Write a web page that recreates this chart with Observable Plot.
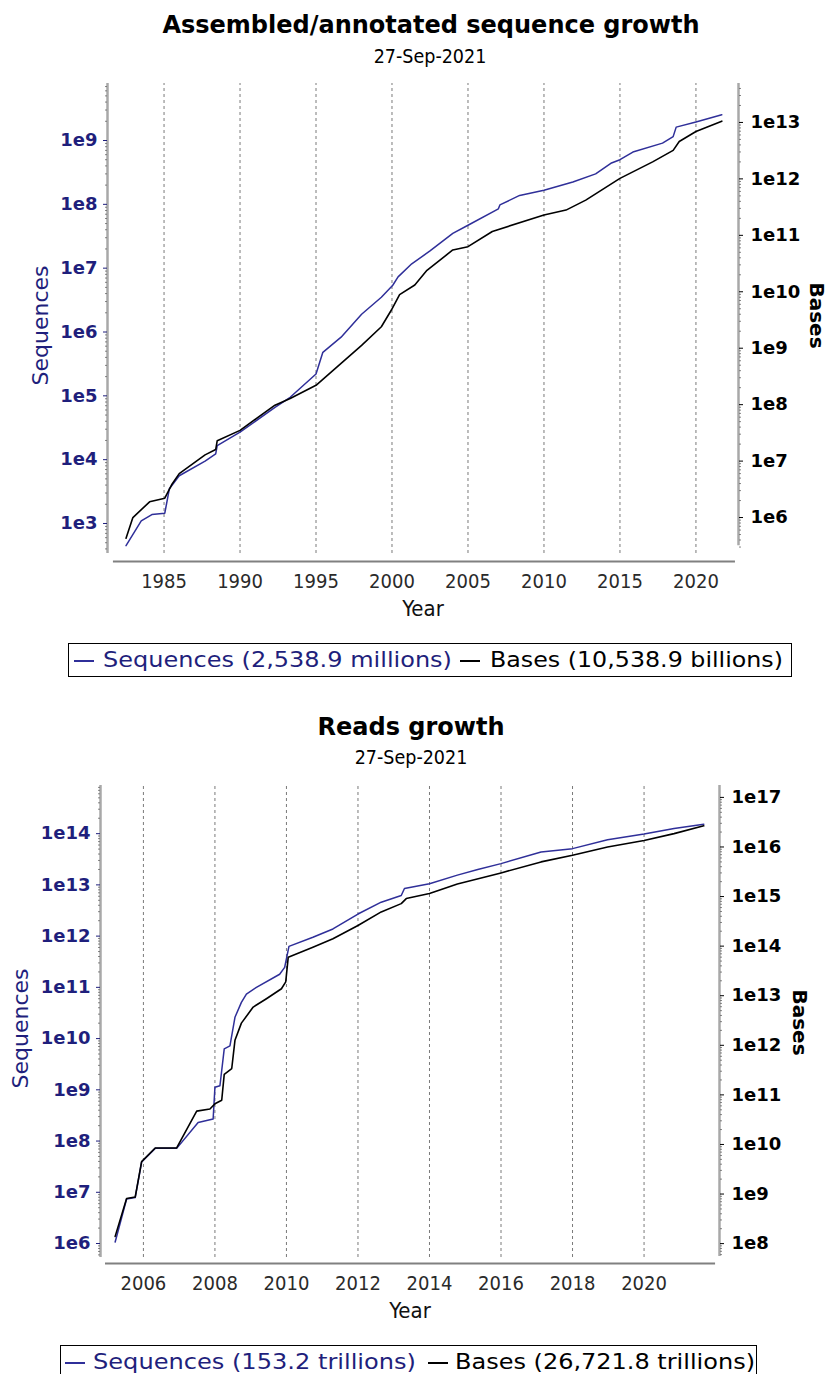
<!DOCTYPE html>
<html><head><meta charset="utf-8">
<script src="https://cdn.jsdelivr.net/npm/d3@7"></script>
<script src="https://cdn.jsdelivr.net/npm/@observablehq/plot@0.6"></script>
<style>
body{margin:0;background:#fff;}
#page{position:relative;width:829px;height:1374px;overflow:hidden;font-family:"DejaVu Sans",sans-serif;}
.abs{position:absolute;white-space:nowrap;line-height:1;}
.title{font-weight:bold;font-size:24px;transform:translateX(-50%);color:#000;}
.sub{font-family:"DejaVu Sans Condensed","DejaVu Sans",sans-serif;font-size:19.5px;transform:translateX(-50%);color:#000;}
.legend{border:1.5px solid #000;box-sizing:border-box;background:#fff;}
.leg{font-family:"DejaVu Sans",sans-serif;font-size:22px;transform-origin:0 50%;}
.dash{position:absolute;height:1.6px;}
</style></head><body><div id="page"></div>
<script>
// ---------- Chart 1: Assembled/annotated sequence growth ----------
const title1 = "Assembled/annotated sequence growth";
const date1 = "27-Sep-2021";
const seqYears1 = [1982.5, 1983.5, 1984.2, 1985.05, 1985.35, 1986.0, 1987.7, 1988.4, 1988.5, 1990.0, 1992.3, 1993.3, 1995.0, 1995.45, 1996.65, 1998.0, 1999.3, 2000.05, 2000.4, 2001.3, 2002.5, 2004.0, 2005.0, 2007.0, 2007.1, 2008.4, 2010.0, 2011.9, 2013.4, 2014.4, 2015.0, 2015.85, 2017.8, 2018.5, 2018.7, 2020.0, 2021.7];
const seqValues1 = [4.5e2, 1.1e3, 1.38e3, 1.45e3, 3.5e3, 5.6e3, 9.5e3, 1.23e4, 1.66e4, 2.7e4, 6.6e4, 9.5e4, 2.2e5, 4.8e5, 8.3e5, 1.9e6, 3.5e6, 5.4e6, 7.3e6, 1.17e7, 1.86e7, 3.5e7, 4.7e7, 8.5e7, 9.8e7, 1.38e8, 1.66e8, 2.24e8, 3.0e8, 4.4e8, 5.0e8, 6.6e8, 9.1e8, 1.15e9, 1.62e9, 1.95e9, 2.54e9];
const baseYears1 = [1982.5, 1982.95, 1984.05, 1985.05, 1985.5, 1986.0, 1987.7, 1988.4, 1988.5, 1990.0, 1992.3, 1993.3, 1995.0, 1996.65, 1998.0, 1999.3, 1999.95, 2000.5, 2001.5, 2002.3, 2004.0, 2005.0, 2006.6, 2010.0, 2011.45, 2012.75, 2015.0, 2017.15, 2018.5, 2018.9, 2020.0, 2021.7];
const baseValues1 = [4.3e5, 1.0e6, 1.9e6, 2.2e6, 3.8e6, 6.0e6, 1.29e7, 1.6e7, 2.3e7, 3.5e7, 9.8e7, 1.29e8, 2.2e8, 5.4e8, 1.12e9, 2.4e9, 4.7e9, 8.9e9, 1.32e10, 2.4e10, 5.5e10, 6.3e10, 1.17e11, 2.3e11, 2.8e11, 4.2e11, 1.02e12, 2.0e12, 3.2e12, 4.6e12, 6.9e12, 1.054e13];
const xTicks1 = [1985, 1990, 1995, 2000, 2005, 2010, 2015, 2020];
const seqTickExp1 = [3, 4, 5, 6, 7, 8, 9];
const baseTickExp1 = [6, 7, 8, 9, 10, 11, 12, 13];
const legend1 = ["Sequences (2,538.9 millions)", "Bases (10,538.9 billions)"];

// ---------- Chart 2: Reads growth ----------
const title2 = "Reads growth";
const date2 = "27-Sep-2021";
const seqYears2 = [2005.21, 2005.53, 2005.77, 2005.95, 2006.33, 2006.93, 2007.53, 2007.95, 2008.0, 2008.14, 2008.26, 2008.42, 2008.56, 2008.74, 2008.88, 2009.16, 2009.81, 2009.95, 2010.07, 2010.74, 2011.3, 2012.0, 2012.65, 2013.21, 2013.3, 2014.0, 2014.78, 2015.35, 2016.0, 2017.12, 2018.0, 2018.98, 2020.0, 2020.84, 2021.67];
const seqValues2 = [1.07e6, 7.4e6, 7.9e6, 3.9e7, 7.2e7, 7.2e7, 2.3e8, 2.7e8, 1.12e9, 1.2e9, 6.3e9, 7.2e9, 2.6e10, 5.1e10, 7.4e10, 1.0e11, 1.8e11, 2.45e11, 6.3e11, 9.5e11, 1.38e12, 2.7e12, 4.6e12, 6.2e12, 8.5e12, 1.05e13, 1.55e13, 2.0e13, 2.6e13, 4.4e13, 5.1e13, 7.6e13, 9.8e13, 1.26e14, 1.532e14];
const baseYears2 = [2005.21, 2005.53, 2005.77, 2005.95, 2006.33, 2006.93, 2007.49, 2007.86, 2008.0, 2008.19, 2008.26, 2008.47, 2008.56, 2008.74, 2009.07, 2009.44, 2009.86, 2009.98, 2010.05, 2010.74, 2011.3, 2012.0, 2012.65, 2013.21, 2013.35, 2014.0, 2014.78, 2016.0, 2017.12, 2018.0, 2018.98, 2020.0, 2020.84, 2021.67];
const baseValues2 = [1.4e8, 8.1e8, 8.7e8, 4.5e9, 8.5e9, 8.5e9, 4.7e10, 5.2e10, 6.6e10, 7.8e10, 2.6e11, 3.4e11, 1.26e12, 2.8e12, 5.9e12, 8.7e12, 1.38e13, 1.9e13, 6.0e13, 9.5e13, 1.41e14, 2.6e14, 4.9e14, 7.2e14, 9.1e14, 1.15e15, 1.8e15, 3.0e15, 5.0e15, 6.8e15, 1.0e16, 1.35e16, 1.86e16, 2.67e16];
const xTicks2 = [2006, 2008, 2010, 2012, 2014, 2016, 2018, 2020];
const seqTickExp2 = [6, 7, 8, 9, 10, 11, 12, 13, 14];
const baseTickExp2 = [8, 9, 10, 11, 12, 13, 14, 15, 16, 17];
const legend2 = ["Sequences (153.2 trillions)", "Bases (26,721.8 trillions)"];

// ---------- rendering ----------
const FONT = '"DejaVu Sans", sans-serif';
const COND = '"DejaVu Sans Condensed", "DejaVu Sans", sans-serif';
const BLUE_TEXT = "#1f1f7c";
const BLUE_LINE = "#2f2f99";
const page = document.getElementById("page");

function div(cls, text, css) {
  const d = document.createElement("div");
  d.className = "abs " + cls;
  if (text != null) d.textContent = text;
  Object.assign(d.style, css);
  page.appendChild(d);
  return d;
}
const majors = (exps) => exps.map(e => Math.pow(10, e));
function minors(domain) {
  const out = [];
  const lo = Math.floor(Math.log10(domain[0])), hi = Math.ceil(Math.log10(domain[1]));
  for (let e = lo; e <= hi; e++) for (let m = 2; m <= 9; m++) {
    const v = m * Math.pow(10, e);
    if (v >= domain[0] && v <= domain[1]) out.push(v);
  }
  return out;
}
const expFmt = d => "1e" + Math.round(Math.log10(d));
const blank = () => "";

function chart(c) {
  const f = c.frame;
  const common = {
    width: 829, height: f.svgHeight,
    marginLeft: f.left, marginRight: 829 - f.right,
    marginTop: f.top - f.svgTop, marginBottom: f.svgTop + f.svgHeight - f.bottom,
    style: {background: "transparent", fontFamily: FONT, overflow: "visible", position: "absolute", left: "0px", top: f.svgTop + "px", maxWidth: "none"}
  };
  const seqData = c.seqYears.map((x, i) => ({x, y: c.seqValues[i]}));
  const baseData = c.baseYears.map((x, i) => ({x, y: c.baseValues[i]}));
  const A = Plot.plot({
    ...common,
    x: {domain: c.xDomain},
    y: {type: "log", domain: c.seqDomain},
    marks: [
      Plot.ruleX(c.xTicks, {y1: c.seqDomain[0], y2: c.seqDomain[1], stroke: "#7a7a7a", strokeWidth: 1, strokeDasharray: "3,3"}),
      Plot.ruleY([c.seqDomain[0]], {x1: c.xAxisExtent[0], x2: c.xAxisExtent[1], dy: c.xAxisDy, stroke: "#808080", strokeWidth: 2}),
      Plot.ruleX([c.xDomain[0]], {y1: c.seqDomain[0], y2: c.seqDomain[1], stroke: "#a8a8a8", strokeWidth: 2.5}),
      Plot.axisY(minors(c.seqDomain), {anchor: "left", tickSize: 2, tickFormat: blank, label: null, color: "#666", strokeWidth: 0.8}),
      Plot.axisY(majors(c.seqTickExp), {anchor: "left", tickSize: 4, tickPadding: 6, tickFormat: expFmt, label: null, color: BLUE_TEXT, fontWeight: "bold", fontSize: 18}),
      Plot.axisX(c.xTicks, {anchor: "bottom", tickSize: 0, tickPadding: c.xLabelPad, tickFormat: d => String(d), label: null, fontSize: 20, fontFamily: COND, color: "#2a2a2a"}),
      Plot.text(["Sequences"], {frameAnchor: "left", dx: c.seqLabel[0], dy: c.seqLabel[1], rotate: -90, textAnchor: "middle", lineAnchor: "middle", fill: BLUE_TEXT, fontSize: 22}),
      Plot.text(["Year"], {frameAnchor: "bottom", dx: c.yearLabel[0], dy: c.yearLabel[1], textAnchor: "middle", lineAnchor: "middle", fill: "#111", fontSize: 22, fontFamily: COND}),
      Plot.line(seqData, {x: "x", y: "y", stroke: BLUE_LINE, strokeWidth: 1.5})
    ]
  });
  const B = Plot.plot({
    ...common,
    x: {domain: c.xDomain, axis: null},
    y: {type: "log", domain: c.baseDomain},
    marks: [
      Plot.ruleX([c.xDomain[1]], {y1: c.baseAxisBottom, y2: c.baseDomain[1], stroke: "#a8a8a8", strokeWidth: 2.5}),
      Plot.axisY(minors(c.baseDomain), {anchor: "right", tickSize: 2, tickFormat: blank, label: null, color: "#666", strokeWidth: 0.8}),
      Plot.axisY(majors(c.baseTickExp), {anchor: "right", tickSize: 4, tickPadding: 8, tickFormat: expFmt, label: null, color: "#000", fontWeight: "bold", fontSize: 18}),
      Plot.text(["Bases"], {frameAnchor: "right", dx: c.baseLabel[0], dy: c.baseLabel[1], rotate: 90, textAnchor: "middle", lineAnchor: "middle", fill: "#000", fontWeight: "bold", fontSize: 20}),
      Plot.line(baseData, {x: "x", y: "y", stroke: "#000", strokeWidth: 1.6})
    ]
  });
  page.appendChild(A);
  page.appendChild(B);

  div("title", c.title, {left: c.titlePos[0] + "px", top: c.titlePos[1] + "px"});
  div("sub", c.date, {left: c.subPos[0] + "px", top: c.subPos[1] + "px"});
  const L = c.legendBox;
  div("legend", null, {left: L[0] + "px", top: L[1] + "px", width: L[2] + "px", height: L[3] + "px"});
  const colors = [BLUE_TEXT, "#000"];
  c.legend.forEach((t, i) => {
    const p = c.legendItems[i];
    div("dash", null, {left: p[0] + "px", top: (L[1] + L[3] / 2) + "px", width: "20px", background: i === 0 ? BLUE_LINE : "#000"});
    const d = div("leg", t, {left: p[1] + "px", top: (L[1] + L[3] / 2 - 11) + "px", color: colors[i]});
    const w = d.getBoundingClientRect().width;
    if (w > 0) d.style.transform = "scaleX(" + (p[2] / w) + ")";
  });
}

chart({
  title: title1, date: date1, titlePos: [431, 13], subPos: [430, 47],
  frame: {svgTop: 70, svgHeight: 560, left: 107, right: 738, top: 83, bottom: 553},
  xDomain: [1981.28, 2022.8], xAxisExtent: [1981.67, 2022.6], xAxisDy: 8, xLabelPad: 20,
  seqDomain: [Math.pow(10, 2.53), Math.pow(10, 9.893)],
  baseDomain: [Math.pow(10, 5.363), Math.pow(10, 13.69)], baseAxisBottom: Math.pow(10, 5.5),
  xTicks: xTicks1, seqTickExp: seqTickExp1, baseTickExp: baseTickExp1,
  seqYears: seqYears1, seqValues: seqValues1, baseYears: baseYears1, baseValues: baseValues1,
  seqLabel: [-67, 7], baseLabel: [78, -3], yearLabel: [0, 55],
  legend: legend1, legendBox: [68, 643, 724, 34], legendItems: [[74, 103, 349], [460, 490, 293]]
});
chart({
  title: title2, date: date2, titlePos: [411, 715], subPos: [411, 748],
  frame: {svgTop: 775, svgHeight: 555, left: 100, right: 719, top: 785, bottom: 1257},
  xDomain: [2004.80, 2022.11], xAxisExtent: [2004.94, 2022.0], xAxisDy: 6, xLabelPad: 18,
  seqDomain: [Math.pow(10, 5.727), Math.pow(10, 14.94)],
  baseDomain: [Math.pow(10, 7.72), Math.pow(10, 17.24)], baseAxisBottom: Math.pow(10, 7.74),
  xTicks: xTicks2, seqTickExp: seqTickExp2, baseTickExp: baseTickExp2,
  seqYears: seqYears2, seqValues: seqValues2, baseYears: baseYears2, baseValues: baseValues2,
  seqLabel: [-80, 7], baseLabel: [80, 1], yearLabel: [0, 53],
  legend: legend2, legendBox: [60, 1345, 697, 34], legendItems: [[65, 93, 323], [428, 455, 300]]
});
</script>
</body></html>
